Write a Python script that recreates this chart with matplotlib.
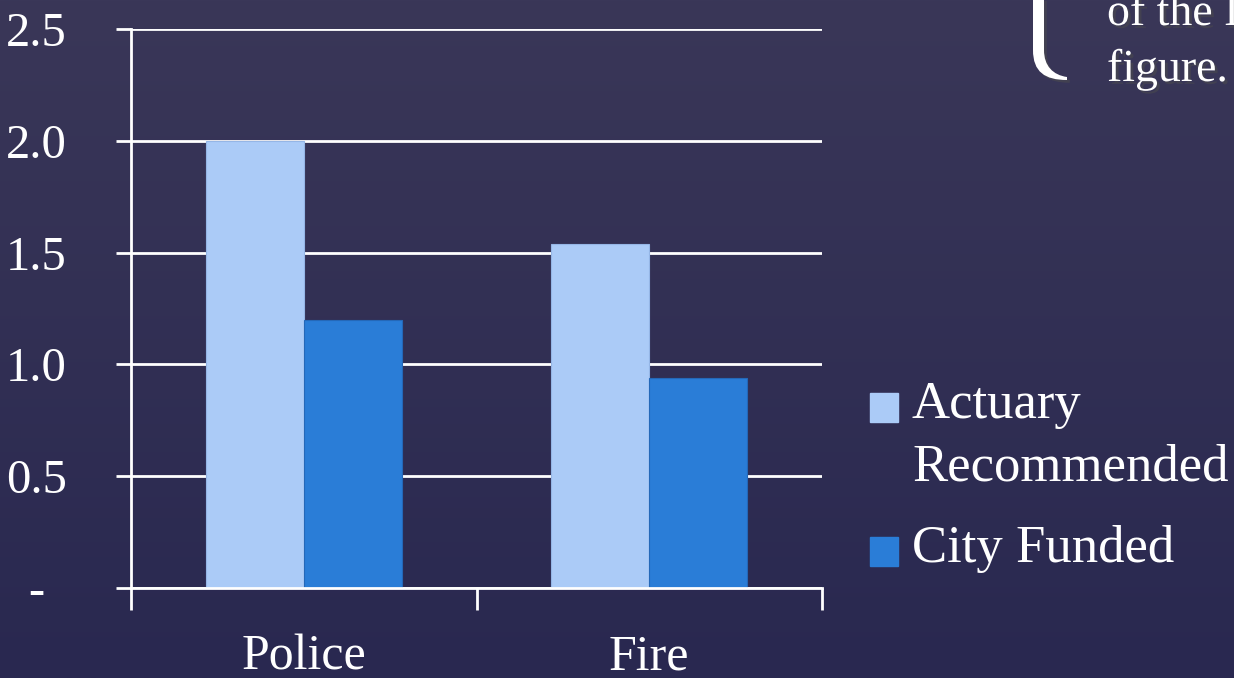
import matplotlib.pyplot as plt
import matplotlib.patheffects as pe
from matplotlib.path import Path
from matplotlib.patches import PathPatch
import numpy as np

# data
categories = ["Police", "Fire"]
series_names = ["Actuary\nRecommended", "City Funded"]
actuary = [2.0, 1.54]
city_funded = [1.2, 0.94]
y_ticks = [0, 0.5, 1.0, 1.5, 2.0, 2.5]
y_labels = ["-", "0.5", "1.0", "1.5", "2.0", "2.5"]

colors = ["#abcbf7", "#2a7dd7"]
edges = ["#95b6e6", "#2468b8"]
serif = ["Liberation Serif", "DejaVu Serif"]

plt.rcParams['font.family'] = serif

W, H = 1234, 678
fig = plt.figure(figsize=(W / 100, H / 100), dpi=100)

# background gradient
bg = fig.add_axes([0, 0, 1, 1])
top = np.array([58, 55, 88]) / 255
bottom = np.array([41, 40, 80]) / 255
t = np.linspace(0, 1, 256)[:, None]
grad = top[None, :] * (1 - t) + bottom[None, :] * t
bg.imshow(grad[:, None, :], aspect='auto', extent=[0, 1, 0, 1])
bg.axis('off')

ax = fig.add_axes([131 / W, 1 - 588 / H, 691 / W, 559 / H])
ax.patch.set_alpha(0)

x = np.arange(len(categories))
w = 0.283
ax.bar(x - w / 2, actuary, w, color=colors[0], edgecolor=edges[0], linewidth=0.8, zorder=3)
ax.bar(x + w / 2, city_funded, w, color=colors[1], edgecolor=edges[1], linewidth=0.8, zorder=3)

ax.set_xlim(-0.5, 1.5)
ax.set_ylim(0, 2.5)

ax.set_yticks(y_ticks)
ax.set_yticklabels(y_labels)
ax.tick_params(axis='y', colors='white', length=11, width=2, pad=57,
               labelsize=35, labelcolor='white')
for lab in ax.get_yticklabels():
    lab.set_horizontalalignment('center')

ax.set_xticks([-0.5, 0.5, 1.5])
ax.set_xticklabels([])
ax.set_xticks(x, minor=True)
ax.set_xticklabels(categories, minor=True)
ax.tick_params(axis='x', which='major', colors='white', length=16, width=2)
ax.tick_params(axis='x', which='minor', length=0, pad=33, labelsize=36, labelcolor='white')

ax.grid(axis='y', color='white', linewidth=2, zorder=1)
for s in ['top', 'right']:
    ax.spines[s].set_visible(False)
for s in ['left', 'bottom']:
    ax.spines[s].set_color('white')
    ax.spines[s].set_linewidth(2)
    ax.spines[s].set_zorder(4)

# legend drawn by hand to keep the handle on the first line
leg_y = [1 - 407 / H, 1 - 551 / H]
for name, c, yy in zip(series_names, colors, leg_y):
    fig.patches.append(plt.Rectangle((870 / W, yy - 14.5 / H), 28 / W, 29 / H,
                                     transform=fig.transFigure, color=c))
    fig.text(912 / W, yy + 26 / H, name, color='white', fontsize=38,
             ha='left', va='top', linespacing=1.4)

# slide text cut off at the top right
shadow = [pe.withSimplePatchShadow(offset=(2, -2), alpha=0.5)]
fig.text(1107 / W, 1 - 25 / H, "of the I", color='white', fontsize=33,
         ha='left', va='baseline', path_effects=shadow)
fig.text(1107 / W, 1 - 81 / H, "figure.", color='white', fontsize=33,
         ha='left', va='baseline', path_effects=shadow)

# lower arm of a large brace
px = [(1033, -2), (1033, 50), (1033, 72), (1045, 80), (1067, 80), (1067, 77),
      (1053, 75), (1044, 66), (1044, 50), (1044, -2), (1033, -2)]
codes = [Path.MOVETO, Path.LINETO, Path.CURVE4, Path.CURVE4, Path.CURVE4, Path.LINETO,
         Path.CURVE4, Path.CURVE4, Path.CURVE4, Path.LINETO, Path.CLOSEPOLY]
verts = [(a / W, 1 - b / H) for a, b in px]
brace = PathPatch(Path(verts, codes), transform=fig.transFigure, facecolor='white',
                  edgecolor='none', path_effects=shadow)
fig.patches.append(brace)

fig.savefig("out.png", dpi=100)
